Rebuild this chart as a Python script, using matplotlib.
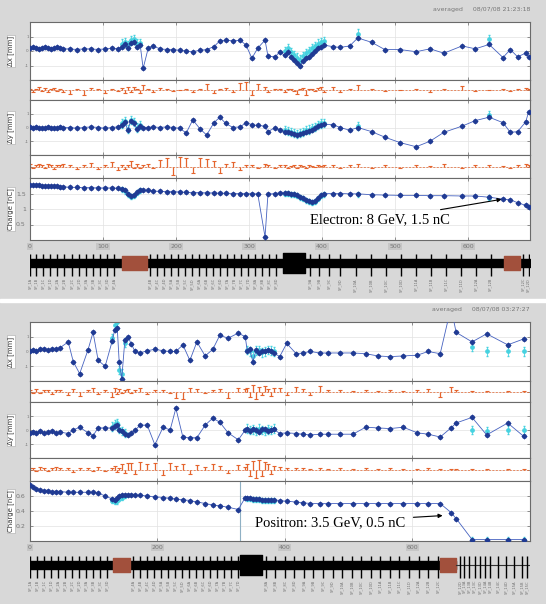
import matplotlib
matplotlib.use("Agg")
import matplotlib.pyplot as plt
from matplotlib.patches import Rectangle

W, H = 546, 604

# ---------------- upper panel : electron beam ----------------
e_pos = [0, 4, 8, 12, 16, 21, 25, 29, 33, 37, 41, 45,
         55, 64, 74, 84, 93, 103, 112, 121,
         126, 130, 134, 138, 142, 147, 151, 155,
         162, 168, 178, 188, 196, 205, 214, 223, 233, 242, 252, 260, 268, 278, 288, 296, 304, 312, 322, 326, 336, 342,
         349, 353, 358, 362, 366, 370, 374, 378, 382, 386, 390, 395, 399, 403,
         415, 425, 438, 449, 468, 486, 507, 529, 548, 567, 592, 610, 629, 648, 658, 668, 679, 683]
e_dx = [0.2, 0.25, 0.2, 0.15, 0.2, 0.25, 0.2, 0.15, 0.2, 0.25, 0.2, 0.15,
        0.15, 0.1, 0.15, 0.15, 0.1, 0.15, 0.2, 0.15,
        0.3, 0.45, 0.2, 0.55, 0.65, 0.3, 0.4, -1.2,
        0.2, 0.35, 0.15, 0.1, 0.1, 0.05, 0.0, -0.05, 0.05, 0.1, 0.3, 0.7, 0.75, 0.7, 0.75, 0.4, -0.5, 0.2, 0.75, -0.35, -0.4, -0.05,
        -0.3, -0.1, -0.4, -0.6, -0.8, -1.0, -0.7, -0.5, -0.4, -0.2, 0.0, 0.2, 0.3, 0.4,
        0.3, 0.25, 0.35, 0.9, 0.6, 0.1, 0.1, -0.05, 0.15, -0.15, 0.35, 0.15, 0.45, -0.45, 0.1, -0.4, -0.15, -0.4]
e_dy = [0.05, 0.0, 0.05, 0.0, -0.05, 0.0, 0.05, 0.0, -0.05, 0.0, 0.05, 0.0,
        0.0, -0.05, 0.0, 0.05, 0.0, -0.05, 0.0, 0.05,
        0.2, 0.4, -0.2, 0.5, 0.3, -0.1, 0.1, 0.0,
        0.0, 0.05, 0.0, 0.05, 0.0, -0.05, -0.4, 0.55, -0.1, -0.55, 0.35, 0.75, 0.3, 0.0, 0.05, 0.35, 0.2, 0.15, 0.1, -0.3, 0.0, -0.2,
        -0.3, -0.35, -0.4, -0.5, -0.55, -0.5, -0.4, -0.3, -0.25, -0.15, -0.05, 0.1, 0.2, 0.25,
        0.2, 0.0, -0.2, 0.0, -0.3, -0.7, -1.1, -1.4, -1.0, -0.35, 0.1, 0.5, 0.75, 0.35, -0.35, -0.3, 0.4, 1.1]
e_q = [1.78, 1.77, 1.76, 1.76, 1.75, 1.75, 1.74, 1.74, 1.73, 1.73, 1.72, 1.72,
       1.7, 1.7, 1.69, 1.69, 1.68, 1.68, 1.68, 1.67,
       1.66, 1.6, 1.5, 1.42, 1.45, 1.55, 1.62, 1.6,
       1.6, 1.58, 1.57, 1.56, 1.56, 1.55, 1.54, 1.53, 1.53, 1.52, 1.52, 1.51, 1.51, 1.5, 1.5, 1.5, 1.49, 1.49, 0.1, 1.48, 1.5, 1.52,
       1.52, 1.51, 1.5, 1.48, 1.45, 1.4, 1.35, 1.3, 1.25, 1.22, 1.25, 1.35, 1.45, 1.5,
       1.5, 1.5, 1.49, 1.49, 1.46, 1.45, 1.44, 1.44, 1.43, 1.43, 1.42, 1.42, 1.38, 1.32, 1.3, 1.2, 1.12, 1.05]
e_ddx = [0.1, -0.2, 0.15, 0.3, -0.1, 0.2, -0.15, 0.1, 0.25, -0.1, 0.15, -0.2,
         -0.35, 0.1, -0.45, 0.2, 0.1, -0.3, 0.15, -0.1,
         0.2, -0.3, 0.35, -0.2, 0.3, 0.1, -0.25, 0.5,
         0.1, -0.15, 0.2, 0.1, -0.1, 0.05, 0.15, -0.2, 0.1, 0.6, -0.3, 0.1, 0.2, -0.15, 0.7, 0.8, -0.5, 0.6, 0.3, -0.2, 0.15, 0.1,
         -0.2, 0.1, 0.15, -0.1, -0.35, 0.1, 0.2, -0.45, 0.1, 0.15, -0.1, 0.2, 0.35, -0.2,
         0.3, -0.15, 0.1, 0.55, 0.1, -0.1, 0.05, 0.1, -0.2, 0.1, 0.4, -0.1, 0.05, 0.1, -0.05, 0.1, 0.25, 0.1]
e_ddy = [0.2, -0.15, 0.1, 0.25, 0.15, -0.1, 0.2, 0.1, -0.2, 0.15, 0.1, 0.2,
         0.15, -0.2, 0.1, 0.3, -0.25, 0.1, 0.35, -0.3,
         0.1, -0.2, 0.15, 0.45, -0.1, 0.2, -0.15, 0.1,
         0.2, -0.15, 0.6, 0.75, -0.7, 0.8, 0.7, -0.6, 0.75, 0.65, 0.5, -0.55, 0.2, 0.4, -0.3, 0.1, 0.15, -0.1, 0.2, 0.1, -0.15, 0.1,
         0.1, -0.1, 0.05, 0.15, -0.1, 0.1, 0.05, -0.1, 0.1, 0.05, -0.05, 0.1, 0.05, 0.1,
         0.1, -0.15, 0.1, 0.2, -0.1, 0.15, -0.1, 0.1, 0.05, 0.2, -0.1, 0.1, 0.1, 0.05, -0.1, 0.1, 0.2, 0.1]
e_ref_pos = [126, 130, 134, 138, 142, 147, 151,
             349, 353, 358, 362, 366, 370, 374, 378, 382, 386, 390, 395, 399, 403, 449, 629]
e_ref_dx = [0.5, 0.6, 0.4, 0.75, 0.8, 0.5, 0.55,
            0.0, 0.2, -0.1, -0.3, -0.45, -0.6, -0.35, -0.15, 0.0, 0.2, 0.35, 0.5, 0.6, 0.7, 1.2, 0.8]
e_ref_dy = [0.3, 0.5, -0.1, 0.55, 0.4, 0.0, 0.2,
            -0.2, -0.25, -0.3, -0.4, -0.45, -0.4, -0.3, -0.2, -0.15, -0.05, 0.05, 0.2, 0.3, 0.35, 0.1, 0.9]
e_ref_q = [1.64, 1.58, 1.48, 1.4, 1.42, 1.52, 1.6,
           1.5, 1.49, 1.48, 1.46, 1.43, 1.38, 1.33, 1.28, 1.23, 1.2, 1.23, 1.33, 1.43, 1.48, 1.47, 1.36]
e_xticks = [0, 100, 200, 300, 400, 500, 600]
e_mags = [0, 8, 18, 27, 37, 47, 58, 67, 77, 86, 96, 105, 115,
          164, 174, 184, 193, 203, 212, 222, 232, 241, 251, 260, 270, 279, 289, 299, 308, 318, 327, 337,
          384, 396, 410, 425, 446, 467, 488, 508, 529, 549, 570, 590, 611, 631, 676, 683]
e_red = [(126, 34), (650, 21)]
e_blk = [(347, 30)]

# ---------------- lower panel : positron beam ----------------
p_pos = [0, 5, 9, 16, 22, 28, 35, 41, 47,
         60, 68, 78, 91, 99, 107, 118, 129, 133, 137, 140, 144, 149, 154, 159, 165, 173, 184, 196, 209,
         220, 229, 240, 251, 262, 275, 287, 298, 311, 327, 338,
         341, 345, 350, 355, 360, 364, 369, 374, 378, 383,
         392, 403, 418, 429, 440, 455, 468, 487, 507, 527, 546, 565, 586, 608, 625, 644, 661, 669, 694, 717, 750, 775]
p_dx = [0.0, 0.1, 0.0, 0.15, 0.2, 0.1, 0.2, 0.15, 0.25,
        0.65, -0.7, -1.5, 0.1, 1.3, -0.6, -1.0, 0.7, 1.45, 1.6, -0.7, -1.85, 0.8, 1.0, 0.5, 0.0, -0.1, 0.05, 0.15, 0.05,
        0.0, 0.0, 0.45, -0.6, 0.65, -0.3, 0.15, 1.1, 0.9, 1.25, 1.0,
        0.05, 0.15, -0.7, 0.1, -0.1, 0.05, 0.0, 0.1, 0.0, -0.1,
        -0.35, 0.55, -0.15, -0.1, 0.0, -0.1, -0.1, -0.1, -0.1, -0.15, -0.3, -0.35, -0.3, -0.25, 0.0, -0.15, 3.0, 1.3, 0.65, 1.2, 0.45, 0.85]
p_dy = [-0.2, -0.15, -0.2, -0.1, -0.2, -0.15, -0.1, -0.2, -0.15,
        -0.25, 0.0, 0.2, -0.2, -0.4, 0.15, 0.15, 0.15, 0.3, 0.35, 0.0, -0.1, -0.3, -0.35, -0.2, 0.0, 0.35, 0.35, -1.05, 0.2,
        0.0, 1.55, -0.5, -0.55, -0.55, 0.35, 0.85, 0.55, -0.2, -0.7, 0.0,
        0.05, -0.1, 0.1, 0.0, -0.15, 0.05, 0.1, -0.05, 0.0, 0.05,
        -0.25, -0.2, -0.25, -0.3, -0.35, -0.3, -0.3, -0.3, -0.3, 0.2, 0.15, 0.1, 0.2, -0.2, -0.3, -0.5, 0.15, 0.5, 0.9, -0.35, 0.5, -0.45]
p_q = [0.75, 0.72, 0.7, 0.68, 0.67, 0.67, 0.66, 0.66, 0.66,
       0.65, 0.65, 0.65, 0.65, 0.65, 0.64, 0.6, 0.56, 0.55, 0.57, 0.6, 0.62, 0.62, 0.62, 0.62, 0.61, 0.61, 0.6, 0.59, 0.58,
       0.57, 0.56, 0.55, 0.54, 0.52, 0.5, 0.48, 0.47, 0.45, 0.42, 0.58,
       0.57, 0.57, 0.56, 0.56, 0.56, 0.55, 0.55, 0.55, 0.55, 0.55,
       0.54, 0.53, 0.52, 0.51, 0.5, 0.5, 0.5, 0.5, 0.5, 0.5, 0.5, 0.5, 0.5, 0.5, 0.5, 0.5, 0.38, 0.3, 0.02, 0.02, 0.02, 0.02]
p_ddx = [0.1, -0.15, 0.2, -0.1, 0.15, 0.1, -0.2, 0.1, 0.15,
         -0.3, 0.25, -0.4, 0.1, 0.35, -0.2, 0.1, -0.5, 0.3, -0.25, 0.2, -0.15, 0.1, 0.2, -0.1, 0.15, 0.3, -0.2, 0.1, 0.15,
         -0.1, -0.6, -0.7, 0.3, 0.2, -0.1, 0.15, 0.2, -0.65, 0.3, 0.2,
         0.3, -0.5, 0.6, -0.7, 0.4, -0.3, 0.5, 0.2, -0.4, 0.35,
         0.35, -0.3, 0.4, 0.2, -0.3, 0.5, 0.1, 0.1, 0.05, 0.1, 0.05, 0.1, 0.05, 0.1, 0.2, -0.5, 0.4, 0.1, 0.05, 0.05, 0.05, 0.05]
p_ddy = [0.1, 0.15, -0.1, 0.2, 0.1, -0.15, 0.1, 0.2, 0.1,
         0.1, -0.2, 0.15, 0.1, -0.1, 0.2, -0.15, 0.1, 0.3, -0.2, 0.15, 0.45, -0.3, 0.6, 0.55, -0.4, 0.65, 0.5, 0.6, -0.45,
         0.55, 0.3, 0.5, -0.35, 0.4, 0.2, 0.5, 0.3, -0.3, 0.4, 0.2,
         0.5, -0.6, 0.7, -0.75, 0.8, -0.6, 0.65, 0.5, -0.4, 0.3,
         0.2, 0.1, 0.15, 0.1, 0.05, 0.1, 0.05, 0.1, 0.05, 0.1, 0.05, 0.1, 0.05, 0.05, 0.1, 0.05, 0.05, 0.05, 0.05, 0.05, 0.05, 0.05]
p_ref_pos = [129, 133, 137, 140, 144, 149,
             341, 345, 350, 355, 360, 364, 369, 374, 378, 383, 694, 717, 750, 775]
p_ref_dx = [0.9, 1.8, 2.0, -1.25, -1.5, 0.6,
            0.1, 0.0, -0.3, 0.05, 0.1, -0.05, 0.0, 0.1, 0.05, 0.0, 0.3, 0.0, 0.0, 0.0]
p_ref_dy = [0.25, 0.4, 0.5, 0.1, -0.05, -0.2,
            0.1, 0.0, 0.05, -0.05, 0.1, 0.0, -0.05, 0.05, 0.0, 0.1, 0.0, -0.1, 0.0, 0.0]
p_ref_q = [0.54, 0.52, 0.53, 0.56, 0.58, 0.6,
           0.56, 0.56, 0.55, 0.55, 0.55, 0.54, 0.54, 0.54, 0.54, 0.54, 0.02, 0.02, 0.02, 0.02]
p_xticks = [0, 200, 400, 600]
p_mags = [0, 11, 22, 33, 44, 55, 66, 77, 88, 99, 110, 121,
          162, 173, 184, 195, 206, 217, 228, 239, 250, 261, 272, 283, 294, 305, 316, 327,
          371, 385, 400, 415, 430, 445, 460, 475, 490, 505, 520, 535, 550, 565, 580, 595, 610, 625, 640,
          675, 682, 690, 698, 706, 714, 722, 735, 748, 760, 772, 780]
p_red = [(130, 27), (644, 25)]
p_blk = [(330, 34)]
p_gap = 330   # BPM with lost charge

BLUE = '#1f3a93'
LINE = '#4662c0'
CYAN = '#46d2e0'
ORANGE = '#e5642d'
GRID = '#e2e2e2'

fig = plt.figure(figsize=(W / 100, H / 100), dpi=100, facecolor='#d8d8d8')
fig.patches.append(Rectangle((0, 1 - 302 / H), 1, 3 / H, transform=fig.transFigure,
                             color='white', zorder=0))


def rect(x0, y0, x1, y1):
    return [x0 / W, 1 - y1 / H, (x1 - x0) / W, (y1 - y0) / H]


def base(ax, xmax, xticks):
    ax.set_xlim(0, xmax)
    ax.set_xticks(xticks)
    ax.tick_params(direction='in', length=2, width=0.5, top=True, right=True,
                   labelbottom=False, labelsize=3, pad=1, color='#666')
    ax.tick_params(labelcolor='#777')
    ax.grid(True, color=GRID, lw=0.5)
    for s in ax.spines.values():
        s.set_color('#6a6a6a')
        s.set_linewidth(0.8)


def yscale(ax, lo, hi, ticks):
    # ticks at the edges stay unlabelled so that stacked axes do not collide
    ax.set_ylim(lo, hi)
    ax.set_yticks(ticks)
    ax.set_yticklabels(['' if t in (lo, hi) else f'{t:g}' for t in ticks])


def series(ax, pos, val, rpos, rval, err):
    ax.errorbar(rpos, rval, yerr=err, fmt='o', ms=2.4, color=CYAN,
                elinewidth=0.6, capsize=1, zorder=2)
    ax.plot(pos, val, '-', color=LINE, lw=0.6, zorder=3)
    ax.plot(pos, val, 'o', ms=2.6, color=BLUE, zorder=4)
    ax.plot(pos, val, '+', ms=4.5, mew=0.5, color=BLUE, zorder=4)


def jitter(ax, pos, val):
    ax.set_ylim(-1, 1)
    ax.set_yticks([-1, 0, 1])
    ax.set_yticklabels([])
    ax.axhline(0, color=ORANGE, lw=0.5, ls=(0, (3, 2)))
    ax.vlines(pos, 0, val, color=ORANGE, lw=0.9)
    ax.plot(pos, val, '_', ms=2.5, mew=0.8, color=ORANGE)


def ylab(y0, y1, txt):
    fig.text(11 / W, 1 - (y0 + y1) / 2 / H, txt, rotation=90, fontsize=5,
             ha='center', va='center', color='#333',
             bbox=dict(fc='white', ec='#aaa', lw=0.4, pad=0.8))


def beamline(y0, xmax, mags, reds, blks, bar_end):
    ax = fig.add_axes(rect(30, y0, 530, y0 + 46))
    ax.set_xlim(0, xmax)
    ax.set_ylim(46, 0)
    ax.axis('off')
    ax.broken_barh([(0, bar_end)], (9, 8), color='black')
    ax.plot([bar_end, xmax], [13, 13], color='#333', lw=0.8)
    ax.vlines(mags, 4, 26, color='black', lw=1.0)
    ax.broken_barh(blks, (3, 20), color='black')
    ax.broken_barh(reds, (6, 14), color='#a2503c')
    for i, x in enumerate(mags):
        ax.text(x, 28, f"SP_{i // 4 + 1}{'ABCD'[i % 4]}", rotation=90,
                fontsize=2.6, color='#6f6f6f', ha='center', va='top')


def panel(rows, pos, dx, dy, q, ddx, ddy, rpos, rdx, rdy, rq, xmax, xticks,
          qmax, qticks, header):
    axd = fig.add_axes(rect(30, rows[0], 530, rows[1]))
    base(axd, xmax, xticks)
    yscale(axd, -2, 2, [-2, -1, 0, 1, 2])
    series(axd, pos, dx, rpos, rdx, 0.3)

    axo1 = fig.add_axes(rect(30, rows[1], 530, rows[2]))
    base(axo1, xmax, xticks)
    jitter(axo1, pos, ddx)

    axy = fig.add_axes(rect(30, rows[2], 530, rows[3]))
    base(axy, xmax, xticks)
    yscale(axy, -2, 2, [-2, -1, 0, 1, 2])
    series(axy, pos, dy, rpos, rdy, 0.3)

    axo2 = fig.add_axes(rect(30, rows[3], 530, rows[4]))
    base(axo2, xmax, xticks)
    jitter(axo2, pos, ddy)

    axq = fig.add_axes(rect(30, rows[4], 530, rows[5]))
    base(axq, xmax, xticks)
    yscale(axq, 0, qmax, qticks)
    series(axq, pos, q, rpos, rq, qmax * 0.04)
    axq.tick_params(labelbottom=True, labelsize=4.5, pad=3)
    for lab in axq.get_xticklabels():
        lab.set_bbox(dict(fc='#c6c6c6', ec='none', pad=0.6))

    ylab(rows[0], rows[1], 'Δx [mm]')
    ylab(rows[2], rows[3], 'Δy [mm]')
    ylab(rows[4], rows[5], 'Charge [nC]')
    fig.text(530 / W, 1 - (rows[0] - 13) / H, header, fontsize=4.5,
             color='#777', ha='right', va='center')
    return axq


# upper panel
axq = panel([22, 80, 100, 155, 178, 240], e_pos, e_dx, e_dy, e_q, e_ddx, e_ddy,
            e_ref_pos, e_ref_dx, e_ref_dy, e_ref_q, 685, e_xticks,
            2, [0, 0.5, 1, 1.5, 2], 'averaged     08/07/08 21:23:18')
axq.annotate('Electron: 8 GeV, 1.5 nC', xy=(648, 1.32), xytext=(384, 0.65),
             fontsize=10.5, family='Liberation Serif', va='center', ha='left',
             arrowprops=dict(arrowstyle='-|>', color='black', lw=0.8,
                             mutation_scale=6, shrinkA=4, shrinkB=1))
beamline(250, 685, e_mags, e_red, e_blk, 685)

# lower panel
axq = panel([322, 381, 402, 458, 481, 541], p_pos, p_dx, p_dy, p_q, p_ddx, p_ddy,
            p_ref_pos, p_ref_dx, p_ref_dy, p_ref_q, 785, p_xticks,
            0.8, [0, 0.2, 0.4, 0.6, 0.8], 'averaged     08/07/08 03:27:27')
axq.axvline(p_gap, color='#8fb0c4', lw=0.8)
axq.annotate('Positron: 3.5 GeV, 0.5 nC', xy=(650, 0.34), xytext=(353, 0.25),
             fontsize=10.5, family='Liberation Serif', va='center', ha='left',
             arrowprops=dict(arrowstyle='-|>', color='black', lw=0.8,
                             mutation_scale=6, shrinkA=4, shrinkB=1))
beamline(552, 785, p_mags, p_red, p_blk, 669)

fig.savefig('out.png', dpi=100, facecolor=fig.get_facecolor())
